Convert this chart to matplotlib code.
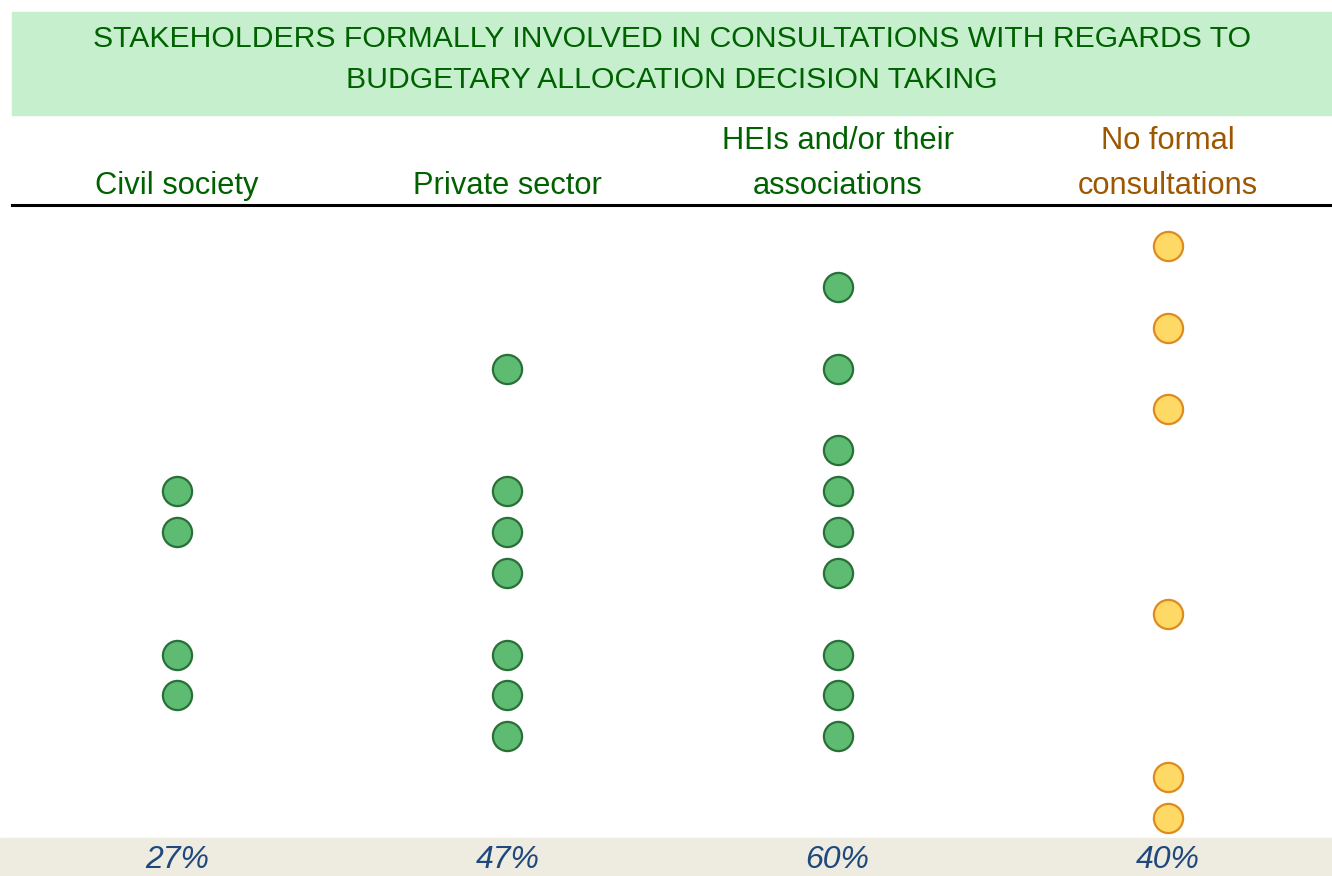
import matplotlib.pyplot as plt
from matplotlib.patches import Rectangle

# Stakeholder columns and the 15 rows (1 = formally consulted)
categories = ["Civil society", "Private sector",
              "HEIs and/or their\nassociations", "No formal\nconsultations"]
civil_society = [0, 0, 0, 0, 0, 0, 1, 1, 0, 0, 1, 1, 0, 0, 0]
private_sector = [0, 0, 0, 1, 0, 0, 1, 1, 1, 0, 1, 1, 1, 0, 0]
heis = [0, 1, 0, 1, 0, 1, 1, 1, 1, 0, 1, 1, 1, 0, 0]
no_formal = [1, 0, 1, 0, 1, 0, 0, 0, 0, 1, 0, 0, 0, 1, 1]
percent_labels = ["27%", "47%", "60%", "40%"]

series = [civil_society, private_sector, heis, no_formal]
n_rows = len(civil_society)

W, H = 1332, 876
fig = plt.figure(figsize=(W / 100, H / 100), dpi=100)
plt.rcParams['font.family'] = ['Liberation Sans', 'DejaVu Sans']

def fy(p):
    return 1 - p / H

# title band
fig.patches.append(Rectangle((12 / W, fy(115)), 1 - 12 / W, 103 / H,
                             transform=fig.transFigure, color='#C6EFCE', zorder=0))
fig.text(672 / W, fy(39), "STAKEHOLDERS FORMALLY INVOLVED IN CONSULTATIONS WITH REGARDS TO",
         ha='center', va='center', color='#006100', fontsize=21.7)
fig.text(672 / W, fy(80), "BUDGETARY ALLOCATION DECISION TAKING",
         ha='center', va='center', color='#006100', fontsize=21.7)

# bottom band
fig.patches.append(Rectangle((0, 0), 1, (H - 838) / H,
                             transform=fig.transFigure, color='#EEEBE0', zorder=0))

# dot area
ax = fig.add_axes([0, fy(838), 1, (838 - 205) / H])
ax.set_xlim(-177 / 330.3, (W - 177) / 330.3)
ax.set_ylim((838 - 246) / 40.86, (205 - 246) / 40.86)
ax.axis('off')

for i, col in enumerate(series):
    rows = [r for r in range(n_rows) if col[r]]
    if i == 3:
        face, edge = '#FFD966', '#E08A1E'
    else:
        face, edge = '#5DBB72', '#2A6E38'
    ax.scatter([i] * len(rows), rows, s=21 ** 2, c=face, edgecolors=edge,
               linewidths=1.6, zorder=3)

# header line
fig.add_artist(plt.Line2D([12 / W, 1], [fy(205), fy(205)], color='black', lw=2.2,
                          transform=fig.transFigure))

# column headers and percentages
for i, name in enumerate(categories):
    color = '#9C5700' if i == 3 else '#006100'
    n_lines = name.count('\n') + 1
    y_pix = 186 - (n_lines - 1) * 45 / 2
    fig.text((177 + 330.3 * i) / W, fy(y_pix), name, ha='center', va='center',
             color=color, fontsize=22.2, linespacing=1.66)
    fig.text((177 + 330.3 * i) / W, fy(860), percent_labels[i], ha='center', va='center',
             color='#1F497D', fontsize=23, style='italic')

plt.savefig('out.png', dpi=100)
